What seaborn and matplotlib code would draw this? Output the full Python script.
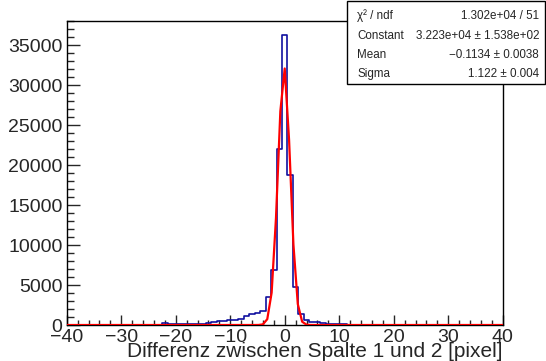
import numpy as np
import pandas as pd
import matplotlib
matplotlib.use("Agg")
import matplotlib.pyplot as plt
from matplotlib.ticker import MultipleLocator
import seaborn as sns

# histogram contents, one bin per integer pixel difference (-40 .. 40)
bin_centers = np.arange(-40, 41)
counts = [5, 5, 10, 5, 10, 10, 15, 10, 15, 20,
          20, 25, 25, 30, 30, 40, 40, 50, 220, 90,
          70, 80, 90, 110, 140, 180, 250, 330, 450, 520,
          600, 650, 790, 1160, 1330, 1540, 1800, 3460, 6880, 21960,
          36200,
          18750, 4790, 1330, 620, 420, 330, 200, 130, 100, 80,
          70, 60, 50, 45, 40, 35, 30, 30, 25, 20,
          20, 15, 15, 15, 10, 10, 10, 10, 5, 5,
          5, 5, 5, 5, 5, 0, 5, 0, 5, 0]

# gaussian fit result (from the stat box)
fit_const = 3.223e4
fit_mean = -0.1134
fit_sigma = 1.122
stat_rows = [("χ² / ndf", "1.302e+04 / 51"),
             ("Constant", "3.223e+04 ± 1.538e+02"),
             ("Mean", "−0.1134 ± 0.0038"),
             ("Sigma", "1.122 ± 0.004")]
x_label = "Differenz zwischen Spalte 1 und 2 [pixel]"

sns.set_style("ticks")
plt.rcParams['font.family'] = ['Liberation Sans', 'DejaVu Sans']

df = pd.DataFrame({"diff": bin_centers.astype(float), "n": np.array(counts, dtype=float)})

fig = plt.figure(figsize=(5.46, 3.61), dpi=100)
ax = fig.add_axes([0.1222, 0.0997, 0.7985, 0.8421])

sns.histplot(data=df, x="diff", weights="n", binwidth=1, binrange=(-40.5, 40.5),
             element="step", fill=False, color="#1010a0", linewidth=1.2, ax=ax)

xf = np.linspace(-40, 40, 101)
yf = fit_const * np.exp(-0.5 * ((xf - fit_mean) / fit_sigma) ** 2)
sns.lineplot(x=xf, y=yf, color="red", linewidth=1.6, ax=ax, zorder=5)

ax.set_xlim(-40, 40)
ax.set_ylim(0, 38000)
ax.set_xlabel("")
ax.set_ylabel("")
for s in ax.spines.values():
    s.set_linewidth(1.0)
    s.set_color("black")

ax.xaxis.set_major_locator(MultipleLocator(10))
ax.xaxis.set_minor_locator(MultipleLocator(2))
ax.yaxis.set_major_locator(MultipleLocator(5000))
ax.yaxis.set_minor_locator(MultipleLocator(1000))
ax.tick_params(axis="x", which="major", direction="in", length=7.5, width=1, labelsize=14, pad=3)
ax.tick_params(axis="x", which="minor", direction="in", length=3.8, width=1)
ax.tick_params(axis="y", which="major", direction="in", length=9.5, width=1, labelsize=14, pad=3)
ax.tick_params(axis="y", which="minor", direction="in", length=4.7, width=1)

fig.text(503 / 546, 1 - 357 / 361, x_label, ha="right", va="baseline", fontsize=15)

# stat box
box = plt.Rectangle((347 / 546, 1 - 84 / 361), 1 - 347 / 546 - 0.002, 84 / 361 - 0.002,
                    transform=fig.transFigure, facecolor="white", edgecolor="black",
                    linewidth=1.0, zorder=10)
fig.patches.append(box)
row_y = [16, 36, 55, 74]
for (left, right), yy in zip(stat_rows, row_y):
    fig.text(357 / 546, 1 - yy / 361, left, ha="left", va="center", fontsize=8.4, zorder=11)
    fig.text(539 / 546, 1 - yy / 361, right, ha="right", va="center", fontsize=8.4, zorder=11)

fig.savefig("out.png", dpi=100)
